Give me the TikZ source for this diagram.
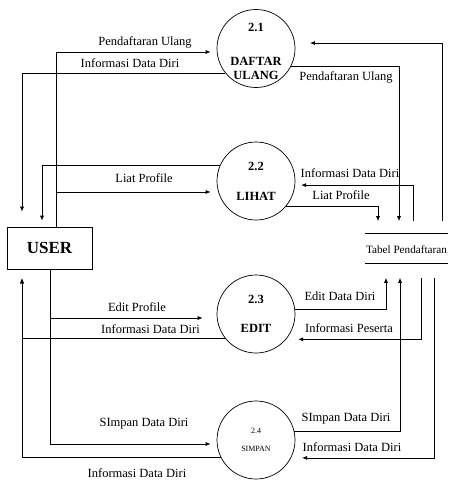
\documentclass[tikz,border=0pt]{standalone}
\usepackage{fontspec}
\setmainfont{Liberation Serif}
\usetikzlibrary{arrows.meta,calc,positioning}

\begin{document}
\begin{tikzpicture}[x=1pt,y=-1pt,line width=0.7pt,>={Latex[length=5pt,width=4pt]},
  proc/.style={circle,draw,minimum size=78pt,inner sep=0pt},
  ptext/.style={align=center,font=\bfseries\fontsize{12.5}{14}\selectfont},
  lbl/.style={inner sep=0pt,font=\fontsize{12.5}{15}\selectfont},
  flow/.style={->,shorten >=6pt}]
  \useasboundingbox (0,0) rectangle (453,480);
  % proses
  \node[proc] (p21) at (256,48.5) {};
  \node[proc] (p22) at (256,181) {};
  \node[proc] (p23) at (256,314) {};
  \node[proc] (p24) at (256,440) {};
  \node[ptext] (t21) at ([yshift=-2.5pt]p21) {2.1\\[20pt]DAFTAR\\ULANG};
  \node[ptext] (t22) at (p22) {2.2\\[16pt]LIHAT};
  \node[ptext] (t23) at (p23) {2.3\\[15pt]EDIT};
  \node[align=center,font=\fontsize{8}{10}\selectfont] (t24) at (p24) {2.4\\[8pt]SIMPAN};
  % entitas dan tabel
  \node[draw,minimum width=85pt,minimum height=42pt,font=\bfseries\fontsize{17}{20}\selectfont] (user) at (49.5,248) {USER};
  \node[inner sep=0pt,minimum width=83pt,minimum height=56pt,font=\fontsize{11.2}{13}\selectfont] (tabel) at (406.5,249.5) {Tabel Pendaftaran};
  \draw ([yshift=-12.5pt]tabel.north west) -- ([yshift=-12.5pt]tabel.north east);
  \draw ([yshift=14.5pt]tabel.south west) -- ([yshift=14.5pt]tabel.south east);
  % 2.1
  \draw[flow] ([xshift=6.5pt]user.north) |- ([yshift=-3.5pt]p21.west);
  \draw[flow,shorten >=15pt] (p21.219) -| ([xshift=-27.5pt]user.north);
  \draw[->] (p21.333) -| ([xshift=-7.5pt]tabel.north);
  \draw[flow,shorten >=15pt] ([xshift=35.5pt]tabel.north) |- (p21.8);
  % 2.2
  \draw[flow] (p22.156) -| ([xshift=-7.5pt]user.north);
  \draw[flow] ([xshift=6.5pt]user.north) |- ([yshift=-11pt]p22.west);
  \draw[flow] ([xshift=6.5pt]tabel.north) |- (p22.354);
  \draw[->] (p22.320) -| ([xshift=-28.5pt]tabel.north);
  % 2.3
  \draw[flow,shorten >=14pt] ([xshift=0.5pt]user.south) |- ([yshift=-4pt]p23.west);
  \draw[flow,shorten >=9pt] (p23.218) -| ([xshift=-27.5pt]user.south);
  \draw[->] (p23.7) -| ([xshift=-20.5pt]tabel.south);
  \draw[flow,shorten >=12pt] ([xshift=14.5pt]tabel.south) |- (p23.320);
  % 2.4
  \draw[flow] ([xshift=0.5pt]user.south) |- ([yshift=-4pt]p24.west);
  \draw[flow,shorten >=9pt] (p24.206) -| ([xshift=-27.5pt]user.south);
  \draw[->] (p24.13) -| ([xshift=-6.5pt]tabel.south);
  \draw[flow,shorten >=11pt] ([xshift=27.5pt]tabel.south) |- (p24.333);
  % label aliran
  \node[lbl] (l1) at (145,42) {Pendaftaran Ulang};
  \node[lbl] (l2) at (130,63) {Informasi Data Diri};
  \node[lbl] (l3) at (346,77) {Pendaftaran Ulang};
  \node[lbl] (l4) at (144,178) {Liat Profile};
  \node[lbl] (l5) at (350,173) {Informasi Data Diri};
  \node[lbl] (l6) at (341,195) {Liat Profile};
  \node[lbl] (l7) at (137,307) {Edit Profile};
  \node[lbl] (l8) at (150.5,329) {Informasi Data Diri};
  \node[lbl] (l9) at (340,296) {Edit Data Diri};
  \node[lbl] (l10) at (349,328) {Informasi Peserta};
  \node[lbl] (l11) at (144,424) {SImpan Data Diri};
  \node[lbl] (l12) at (346,419) {SImpan Data Diri};
  \node[lbl] (l13) at (352,447) {Informasi Data Diri};
  \node[lbl] (l14) at (137,473) {Informasi Data Diri};
\end{tikzpicture}
\end{document}
